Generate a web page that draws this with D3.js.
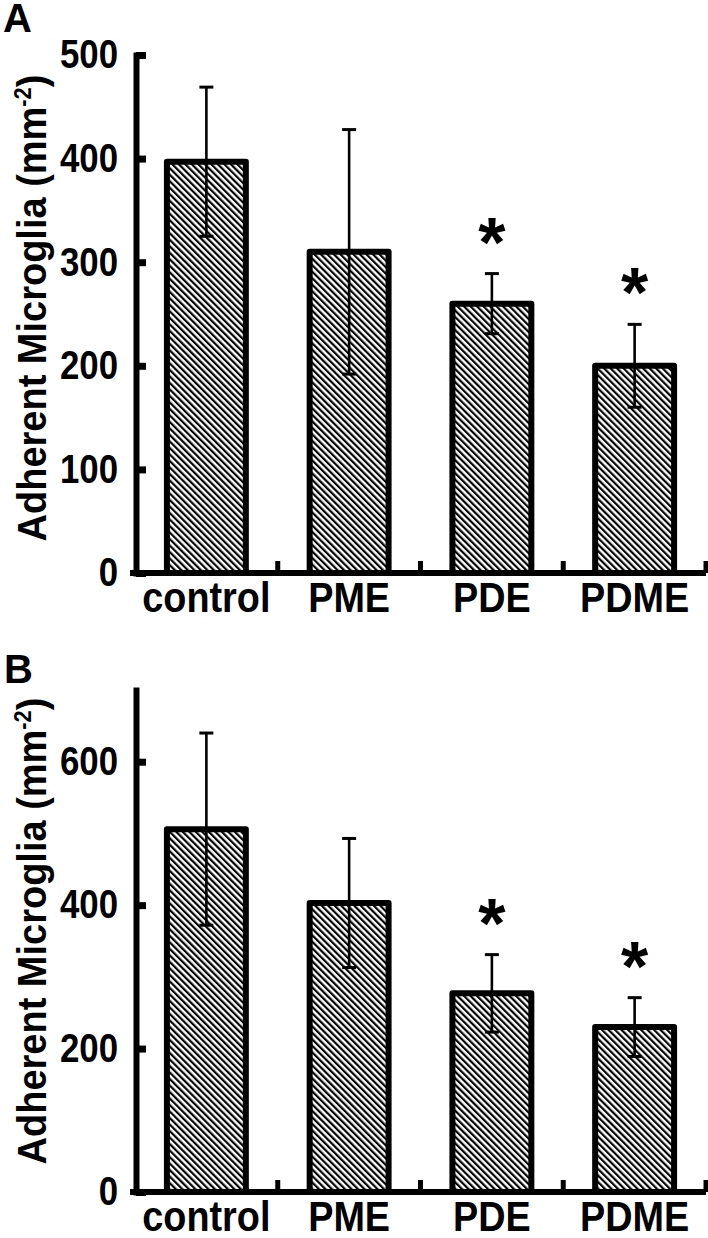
<!DOCTYPE html>
<html>
<head>
<meta charset="utf-8">
<script src="https://cdn.jsdelivr.net/npm/d3@7"></script>
<style>
  body { margin: 0; background: #fff; }
  svg { display: block; font-family: "Liberation Sans", Arial, sans-serif; font-weight: bold; }
</style>
</head>
<body>
<svg id="chart" width="708" height="1238"></svg>
<script>
// data
const groups = ['control', 'PME', 'PDE', 'PDME'];

const meanA = [397, 310, 260, 200];
const errA  = [72, 118, 29, 40];
const starA = [false, false, true, true];
const ticksA = [0, 100, 200, 300, 400, 500];

const meanB = [506, 403, 277, 230];
const errB  = [134, 90, 54, 41];
const starB = [false, false, true, true];
const ticksB = [0, 200, 400, 600];

const svg = d3.select('#chart');

// hatch fill for the bars
svg.append('defs').append('pattern')
    .attr('id', 'hatch')
    .attr('patternUnits', 'userSpaceOnUse')
    .attr('width', 4.6)
    .attr('height', 10)
    .attr('patternTransform', 'rotate(-45)')
  .append('rect')
    .attr('width', 2.2)
    .attr('height', 10)
    .attr('fill', '#000');

const x = d3.scaleBand()
    .domain(groups)
    .range([135, 706])
    .paddingInner(0.405)
    .paddingOuter(0.2025);

// the figure's lettering is a tall, slightly narrow bold face
const tickSx = 0.87, catSx = 0.9, titleSx = 0.95;

function panel(opts) {
    const y = d3.scaleLinear().domain([0, opts.max]).range([opts.bottom, opts.top]);
    const g = svg.append('g');

    // bars
    g.selectAll('.bar').data(groups)
        .enter().append('rect')
        .attr('class', 'bar')
        .attr('x', d => x(d) + 3)
        .attr('width', x.bandwidth() - 6)
        .attr('y', (d, i) => y(opts.mean[i]))
        .attr('height', (d, i) => y(0) - y(opts.mean[i]))
        .attr('fill', 'url(#hatch)')
        .attr('stroke', '#000')
        .attr('stroke-width', 6)
        .attr('stroke-linejoin', 'round');

    // error bars
    const cx = d => x(d) + x.bandwidth() / 2;
    g.selectAll('.err').data(groups)
        .enter().append('line')
        .attr('x1', cx).attr('x2', cx)
        .attr('y1', (d, i) => y(opts.mean[i] + opts.err[i]))
        .attr('y2', (d, i) => y(opts.mean[i] - opts.err[i]))
        .attr('stroke', '#000')
        .attr('stroke-width', 2.6);
    [1, -1].forEach(s => {
        g.selectAll('.cap' + s).data(groups)
            .enter().append('line')
            .attr('x1', d => cx(d) - 7).attr('x2', d => cx(d) + 7)
            .attr('y1', (d, i) => y(opts.mean[i] + s * opts.err[i]))
            .attr('y2', (d, i) => y(opts.mean[i] + s * opts.err[i]))
            .attr('stroke', '#000')
            .attr('stroke-width', 3);
    });

    // significance stars
    g.selectAll('.star').data(groups.filter((d, i) => opts.star[i]))
        .enter().append('text')
        .attr('x', cx)
        .attr('y', d => {
            const i = groups.indexOf(d);
            return y(opts.mean[i] + opts.err[i]) - 7;
        })
        .attr('text-anchor', 'middle')
        .attr('font-size', 70)
        .text('*');

    // y axis, ticks pointing inward
    const yAxis = g.append('g')
        .attr('transform', `translate(136,0)`)
        .call(d3.axisLeft(y).tickValues(opts.ticks).tickSize(-10).tickSizeOuter(0).tickPadding(18));
    yAxis.select('.domain').attr('stroke-width', 6).attr('stroke-linecap', 'square');
    yAxis.selectAll('.tick line').attr('stroke-width', 7);
    yAxis.selectAll('.tick text')
        .attr('font-size', 40)
        .attr('font-family', '"Liberation Sans", Arial, sans-serif')
        .attr('font-weight', 'bold')
        .attr('fill', '#000')
        .attr('x', -18 / tickSx)
        .attr('transform', `scale(${tickSx},1)`);

    // x axis line with small upward ticks between groups
    g.append('line')
        .attr('x1', 130).attr('x2', x.range()[1])
        .attr('y1', y(0)).attr('y2', y(0))
        .attr('stroke', '#000')
        .attr('stroke-width', 6);
    g.selectAll('.xt').data(groups)
        .enter().append('line')
        .attr('x1', d => x(d) + x.bandwidth() / 2 + x.step() / 2)
        .attr('x2', d => x(d) + x.bandwidth() / 2 + x.step() / 2)
        .attr('y1', y(0)).attr('y2', y(0) - 12)
        .attr('stroke', '#000')
        .attr('stroke-width', 5);

    g.selectAll('.xlab').data(groups)
        .enter().append('text')
        .attr('x', d => cx(d) / catSx)
        .attr('y', y(0) + 39)
        .attr('transform', `scale(${catSx},1)`)
        .attr('text-anchor', 'middle')
        .attr('font-size', 42)
        .text(d => d);

    // axis title
    const title = g.append('text')
        .attr('transform', `translate(46,${opts.titleY}) rotate(-90) scale(${titleSx},1)`)
        .attr('text-anchor', 'middle')
        .attr('font-size', 40);
    title.append('tspan').text('Adherent Microglia (mm');
    title.append('tspan').attr('font-size', 23).attr('dy', -15).text('-2');
    title.append('tspan').attr('dy', 15).text(')');

    // panel letter
    g.append('text')
        .attr('x', opts.letterX).attr('y', opts.letterY)
        .attr('font-size', 40)
        .text(opts.letter);
}

panel({ mean: meanA, err: errA, star: starA, ticks: ticksA, max: 500,
        top: 55, bottom: 573, titleY: 308, letter: 'A', letterX: 3, letterY: 32 });
panel({ mean: meanB, err: errB, star: starB, ticks: ticksB, max: 700,
        top: 690, bottom: 1192, titleY: 931, letter: 'B', letterX: 4, letterY: 683 });
</script>
</body>
</html>
